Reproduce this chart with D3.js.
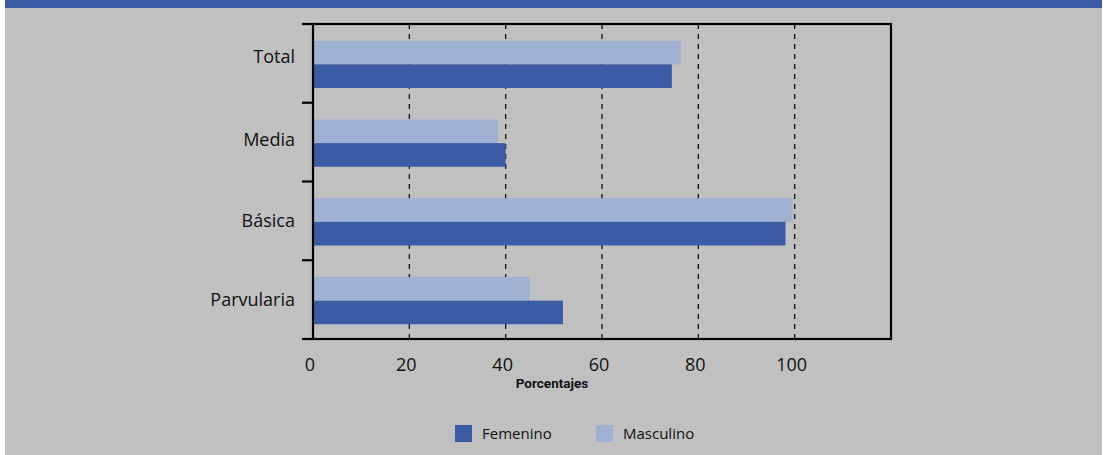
<!DOCTYPE html>
<html>
<head>
<meta charset="utf-8">
<script src="https://cdn.jsdelivr.net/npm/d3@7"></script>
<style>
  html, body { margin: 0; padding: 0; background: #ffffff; }
  svg { display: block; }
</style>
</head>
<body>
<svg id="chart" width="1107" height="455"></svg>
<script>
const categories = ["Total", "Media", "Básica", "Parvularia"];
const seriesNames = ["Masculino", "Femenino"];
const masculino = [76.3, 38.4, 99.6, 45.0];
const femenino  = [74.5, 40.0, 98.1, 51.9];
const xTicks = [0, 20, 40, 60, 80, 100];
const xLabel = "Porcentajes";
const legendOrder = ["Femenino", "Masculino"];
const colors = { Femenino: "#3b5ca4", Masculino: "#9fb0d3" };

(function () {
const svg = d3.select("#chart");
const W = 1107, H = 455;

// background panel
svg.append("rect").attr("x", 5).attr("y", 0).attr("width", 1097).attr("height", H).attr("fill", "#c0c0c0");
svg.append("rect").attr("x", 5).attr("y", 0).attr("width", 1097).attr("height", 8).attr("fill", "#3b5ca4");

const pLeft = 313, pRight = 891, pTop = 24, pBottom = 339;

const x = d3.scaleLinear().domain([0, 120]).range([pLeft, pRight]);
const y = d3.scaleBand().domain(categories).range([pTop, pBottom]).paddingInner(0.4).paddingOuter(0.2);
const ySub = d3.scaleBand().domain(seriesNames).range([0, y.bandwidth()]);

// gridlines
svg.append("g").selectAll("line").data(xTicks.filter(d => d > 0)).join("line")
  .attr("x1", d => x(d)).attr("x2", d => x(d))
  .attr("y1", pTop).attr("y2", pBottom)
  .attr("stroke", "#111").attr("stroke-width", 1.3).attr("stroke-dasharray", "5,5");

// bars
const data = categories.map((c, i) => ({ cat: c, Masculino: masculino[i], Femenino: femenino[i] }));
const g = svg.append("g");
data.forEach(d => {
  seriesNames.forEach(s => {
    g.append("rect")
      .attr("x", x(0))
      .attr("y", y(d.cat) + ySub(s) + 1)
      .attr("width", x(d[s]) - x(0))
      .attr("height", ySub.bandwidth())
      .attr("fill", colors[s]);
  });
});

// frame
svg.append("rect").attr("x", pLeft).attr("y", pTop).attr("width", pRight - pLeft).attr("height", pBottom - pTop)
  .attr("fill", "none").attr("stroke", "#000").attr("stroke-width", 2.2);

// left axis ticks at band boundaries
const boundaries = [pTop].concat(categories.slice(1).map(c => y(c) - y.step() * y.paddingInner() / 2)).concat([pBottom]);
svg.append("g").selectAll("line").data(boundaries).join("line")
  .attr("x1", pLeft - 11).attr("x2", pLeft)
  .attr("y1", d => d).attr("y2", d => d)
  .attr("stroke", "#000").attr("stroke-width", 2.2);

// category labels
svg.append("g").selectAll("text").data(categories).join("text")
  .attr("x", 295)
  .attr("y", d => y(d) + y.bandwidth() / 2 - (d === "Total" ? 7 : 0) - (d === "Media" ? 2 : 0))
  .attr("dy", "0.35em")
  .attr("text-anchor", "end")
  .attr("font-family", "'Open Sans', sans-serif")
  .attr("font-size", 18)
  .attr("fill", "#111")
  .text(d => d);

// x tick labels
svg.append("g").selectAll("text").data(xTicks).join("text")
  .attr("x", d => x(d) - 3)
  .attr("y", 371)
  .attr("text-anchor", "middle")
  .attr("font-family", "'Open Sans', sans-serif")
  .attr("font-size", 18)
  .attr("fill", "#111")
  .text(d => d);

// x axis title
svg.append("text")
  .attr("x", 552).attr("y", 388)
  .attr("text-anchor", "middle")
  .attr("font-family", "Roboto, sans-serif")
  .attr("font-weight", "bold")
  .attr("font-size", 13.5)
  .attr("fill", "#111")
  .text(xLabel);

// legend
const legX = [455, 596];
const lg = svg.append("g");
legendOrder.forEach((s, i) => {
  lg.append("rect").attr("x", legX[i]).attr("y", 425).attr("width", 17).attr("height", 17).attr("fill", colors[s]);
  lg.append("text").attr("x", legX[i] + 27).attr("y", 439)
    .attr("font-family", "'Open Sans', sans-serif").attr("font-size", 15).attr("fill", "#111")
    .text(s);
});
})();
</script>
</body>
</html>
